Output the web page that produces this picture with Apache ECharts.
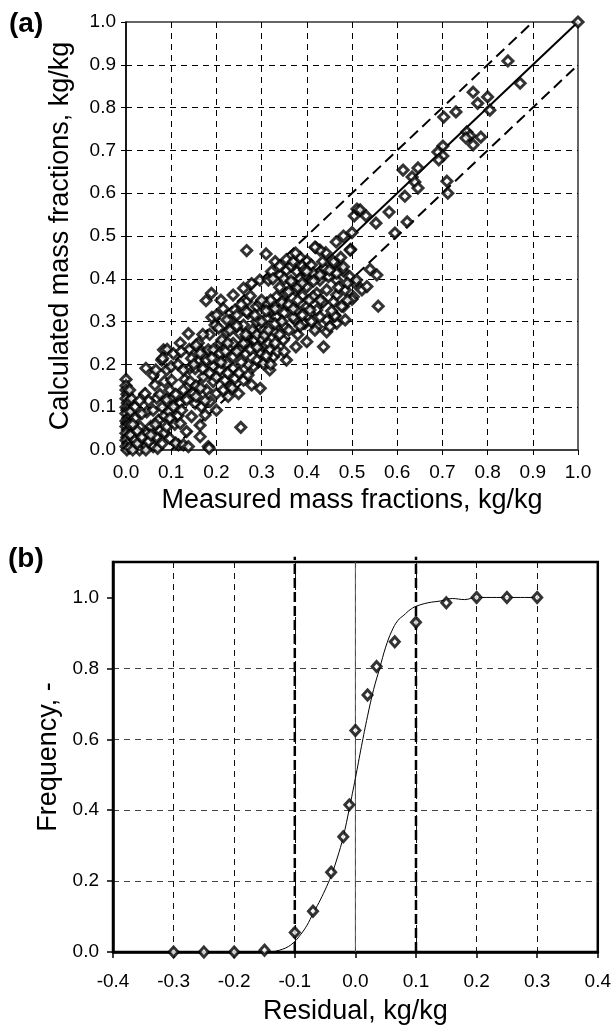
<!DOCTYPE html>
<html>
<head>
<meta charset="utf-8">
<script src="https://cdn.jsdelivr.net/npm/echarts@6/dist/echarts.min.js"></script>
<style>
  html, body { margin: 0; padding: 0; background: #fff; }
  #chart { width: 614px; height: 1026px; }
</style>
</head>
<body>
<div id="chart"></div>
<script>
// (a) measured vs calculated mass fractions [measured, calculated]
var parityPoints = [
  [0.0,0.165],[0.0,0.15],[0.0,0.14],[0.002,0.13],[0.0,0.12],[0.003,0.11],[0.0,0.1],[0.002,0.093],
  [0.0,0.085],[0.004,0.075],[0.0,0.068],[0.002,0.062],[0.0,0.055],[0.003,0.047],[0.0,0.039],[0.002,0.03],
  [0.0,0.023],[0.004,0.016],[0.0,0.008],[0.002,0.0],[0.008,0.005],[0.01,0.035],[0.008,0.06],[0.01,0.09],
  [0.012,0.12],[0.008,0.14],
  [0.02,0.101],[0.02,0.074],[0.031,0.054],[0.02,0.023],[0.042,0.008],[0.046,0.039],[0.046,0.089],[0.042,0.132],
  [0.044,0.191],[0.06,0.175],[0.064,0.152],[0.068,0.121],[0.06,0.093],[0.072,0.07],[0.068,0.031],[0.06,0.008],
  [0.066,0.187],[0.05,0.115],[0.03,0.0],[0.044,0.0],[0.07,0.004],[0.025,0.045],[0.035,0.085],[0.015,0.06],
  [0.055,0.055],[0.05,0.02],[0.03,0.115],[0.08,0.1],[0.075,0.045],[0.085,0.08],[0.08,0.015],
  [0.015,0.0],[0.025,0.015],[0.035,0.03],[0.055,0.035],[0.065,0.06],[0.085,0.04],[0.095,0.09],[0.075,0.13],
  [0.085,0.16],[0.1,0.12],[0.115,0.08],[0.12,0.11],
  [0.083,0.234],[0.079,0.21],[0.09,0.187],[0.101,0.163],[0.097,0.14],[0.09,0.117],[0.105,0.101],[0.097,0.074],
  [0.09,0.054],[0.097,0.027],[0.116,0.012],[0.091,0.235],[0.081,0.214],[0.11,0.016],[0.11,0.13],[0.108,0.06],
  [0.1,0.195],[0.13,0.165],[0.14,0.19],[0.115,0.2],[0.105,0.225],[0.12,0.25],[0.14,0.235],[0.16,0.21],
  [0.127,0.012],[0.138,0.008],[0.182,0.008],[0.184,0.004],[0.138,0.272],[0.122,0.23],[0.145,0.214],[0.153,0.19],
  [0.127,0.187],[0.142,0.16],[0.127,0.14],[0.149,0.132],[0.134,0.117],[0.153,0.109],[0.123,0.093],[0.145,0.078],
  [0.12,0.062],[0.134,0.043],[0.164,0.058],[0.164,0.031],[0.164,0.234],[0.182,0.234],[0.178,0.21],[0.193,0.195],
  [0.171,0.171],[0.193,0.16],[0.178,0.14],[0.2,0.132],[0.186,0.113],[0.167,0.101],[0.2,0.093],[0.175,0.082],
  [0.177,0.349],[0.189,0.366],[0.193,0.234],[0.197,0.292],[0.164,0.226],[0.16,0.25],[0.15,0.2],[0.17,0.19],
  [0.185,0.27],[0.155,0.15],[0.19,0.215],[0.155,0.125],[0.165,0.145],[0.175,0.115],[0.185,0.18],[0.2,0.17],
  [0.17,0.27],[0.155,0.245],[0.19,0.31],
  [0.208,0.249],[0.208,0.226],[0.223,0.202],[0.219,0.163],[0.23,0.148],[0.208,0.187],[0.237,0.191],[0.241,0.167],
  [0.249,0.132],[0.226,0.125],[0.26,0.163],[0.278,0.152],[0.297,0.144],[0.254,0.053],[0.237,0.218],[0.252,0.234],
  [0.267,0.249],[0.282,0.257],[0.223,0.276],[0.23,0.303],[0.241,0.327],[0.2,0.315],[0.27,0.319],[0.26,0.292],
  [0.289,0.3],[0.282,0.272],[0.297,0.234],[0.282,0.195],[0.21,0.35],[0.237,0.362],[0.26,0.378],[0.278,0.389],
  [0.296,0.397],[0.223,0.304],[0.245,0.315],[0.267,0.323],[0.289,0.335],[0.252,0.272],[0.23,0.28],[0.212,0.257],
  [0.237,0.249],[0.26,0.249],[0.285,0.257],[0.296,0.226],[0.267,0.466],[0.267,0.347],[0.27,0.2],[0.25,0.18],
  [0.29,0.21],[0.22,0.23],[0.245,0.29],[0.275,0.36],[0.255,0.34],[0.28,0.28],[0.265,0.225],[0.3,0.26],
  [0.21,0.205],[0.215,0.14],[0.225,0.18],[0.235,0.145],[0.245,0.23],[0.255,0.205],[0.27,0.175],[0.265,0.27],
  [0.275,0.235],[0.285,0.315],[0.29,0.27],[0.215,0.33],[0.205,0.285],[0.225,0.25],[0.29,0.24],
  [0.31,0.458],[0.355,0.445],[0.304,0.28],[0.311,0.307],[0.322,0.327],[0.297,0.343],[0.304,0.202],[0.318,0.187],
  [0.315,0.249],[0.326,0.218],[0.376,0.241],[0.315,0.397],[0.322,0.417],[0.341,0.409],[0.355,0.42],[0.378,0.417],
  [0.396,0.405],[0.311,0.343],[0.333,0.358],[0.355,0.366],[0.374,0.374],[0.333,0.311],[0.307,0.268],[0.329,0.276],
  [0.351,0.288],[0.374,0.304],[0.396,0.296],[0.348,0.257],[0.318,0.234],[0.4,0.335],[0.378,0.327],[0.355,0.339],
  [0.4,0.381],[0.4,0.442],[0.4,0.253],[0.392,0.296],[0.33,0.44],[0.34,0.43],[0.365,0.43],[0.37,0.44],
  [0.385,0.45],[0.39,0.43],[0.35,0.4],[0.37,0.39],[0.39,0.36],[0.36,0.37],[0.34,0.38],[0.38,0.35],
  [0.32,0.35],[0.33,0.33],[0.35,0.32],[0.37,0.31],[0.39,0.315],[0.36,0.28],[0.34,0.27],[0.38,0.27],
  [0.335,0.23],[0.355,0.21],[0.32,0.2],[0.375,0.46],[0.395,0.42],[0.385,0.4],
  [0.3,0.35],[0.3,0.3],[0.31,0.325],[0.315,0.28],[0.325,0.4],[0.33,0.295],[0.345,0.345],[0.345,0.3],
  [0.36,0.34],[0.365,0.395],[0.37,0.33],[0.38,0.38],[0.385,0.29],[0.39,0.39],[0.35,0.23],[0.31,0.22],[0.33,0.25],
  [0.42,0.473],[0.442,0.461],[0.465,0.486],[0.481,0.5],[0.5,0.508],[0.505,0.547],[0.497,0.469],[0.41,0.432],
  [0.44,0.424],[0.462,0.436],[0.48,0.419],[0.495,0.405],[0.507,0.39],[0.466,0.397],[0.448,0.405],[0.429,0.397],
  [0.414,0.413],[0.422,0.366],[0.444,0.374],[0.466,0.362],[0.485,0.374],[0.503,0.358],[0.481,0.335],[0.462,0.315],
  [0.444,0.304],[0.422,0.327],[0.422,0.288],[0.444,0.276],[0.466,0.296],[0.485,0.304],[0.437,0.241],[0.451,0.288],
  [0.462,0.313],[0.477,0.336],[0.5,0.352],[0.522,0.374],[0.533,0.382],[0.51,0.397],[0.54,0.422],[0.555,0.409],
  [0.558,0.336],[0.429,0.467],[0.459,0.44],[0.481,0.428],[0.4,0.417],[0.429,0.409],[0.466,0.413],[0.414,0.358],
  [0.436,0.346],[0.407,0.327],[0.429,0.311],[0.459,0.346],[0.418,0.28],[0.418,0.474],[0.511,0.563],[0.518,0.561],
  [0.531,0.547],[0.496,0.467],[0.405,0.35],[0.41,0.3],[0.415,0.395],[0.43,0.35],[0.435,0.44],[0.45,0.42],
  [0.455,0.325],[0.47,0.38],[0.475,0.45],[0.49,0.39],[0.49,0.35],
  [0.553,0.53],[0.582,0.556],[0.595,0.507],[0.622,0.533],[0.617,0.593],[0.613,0.654],[0.646,0.659],[0.633,0.638],
  [0.639,0.626],[0.646,0.612],[0.71,0.628],[0.712,0.6],[0.701,0.71],[0.69,0.696],[0.701,0.687],[0.692,0.678],
  [0.703,0.778],[0.73,0.79],[0.754,0.743],[0.761,0.734],[0.768,0.713],[0.785,0.731],[0.752,0.729],[0.768,0.836],
  [0.8,0.825],[0.778,0.81],[0.805,0.794],[0.845,0.909],[0.872,0.857],[1.0,1.0]
];
// (a) reference lines: y = x and +-0.1 band
var diagLine = [[0, 0], [1, 1]];
var bandUpper = [[0, 0.1], [0.9, 1]];
var bandLower = [[0.1, 0], [1, 0.9]];

// (b) cumulative residual frequency
var residualX = [-0.3, -0.25, -0.2, -0.15, -0.1, -0.07, -0.04, -0.02, -0.01, 0.0, 0.02, 0.035, 0.065, 0.1, 0.15, 0.2, 0.25, 0.3];
var frequencyY = [0, 0, 0, 0.005, 0.055, 0.115, 0.225, 0.325, 0.415, 0.625, 0.725, 0.805, 0.875, 0.93, 0.985, 1, 1, 1];
// fitted curve
var curveX = [-0.3, -0.14, -0.13, -0.12, -0.11, -0.1, -0.09, -0.08, -0.07, -0.06, -0.05, -0.04, -0.03, -0.02, -0.01, 0, 0.01, 0.02, 0.03, 0.04, 0.05, 0.06, 0.07, 0.08, 0.09, 0.1, 0.12, 0.14, 0.16, 0.18, 0.2, 0.3];
var curveY = [0, 0, 0.003, 0.008, 0.016, 0.03, 0.05, 0.075, 0.108, 0.14, 0.175, 0.215, 0.265, 0.325, 0.405, 0.49, 0.58, 0.665, 0.74, 0.8, 0.86, 0.905, 0.935, 0.95, 0.965, 0.975, 0.985, 0.99, 0.997, 0.994, 1, 1];
var limitX = [-0.1, 0.1];
var limitTop = 1.115;
var zeroLine = [[0, 0], [0, 1.1]];
var yTicksB = [0, 0.2, 0.4, 0.6, 0.8, 1.0];

var font = 'Liberation Sans, Arial, sans-serif';
var fmt1 = function (v) { return (Math.abs(v) < 1e-9 ? 0 : v).toFixed(1); };

function zip(xs, ys) {
  var out = [];
  for (var i = 0; i < xs.length; i++) out.push([xs[i], ys[i]]);
  return out;
}

var chart = echarts.init(document.getElementById('chart'), null, { renderer: 'canvas' });

var diamond = {
  type: 'scatter',
  symbol: 'diamond',
  itemStyle: { color: '#fff', borderColor: '#000', borderWidth: 3 },
  z: 10,
  silent: true
};

var option = {
  animation: false,
  backgroundColor: '#fff',
  graphic: [
    { type: 'text', left: 9, top: 10, style: { text: '(a)', font: 'bold 28px ' + font, fill: '#000' } },
    { type: 'text', left: 8, top: 545, style: { text: '(b)', font: 'bold 28px ' + font, fill: '#000' } }
  ],
  grid: [
    { left: 126, top: 22, width: 452, height: 428, show: true, borderColor: '#333', borderWidth: 1.5 },
    { left: 113, top: 562, width: 485, height: 391, show: true, borderColor: '#000', borderWidth: 2.5 }
  ],
  xAxis: [{
    gridIndex: 0,
    type: 'value',
    min: 0,
    max: 1,
    interval: 0.1,
    name: 'Measured mass fractions, kg/kg',
    nameLocation: 'middle',
    nameGap: 37,
    nameTextStyle: { fontSize: 27, color: '#000', fontFamily: font },
    axisLine: { onZero: false, lineStyle: { color: '#333', width: 1.5 } },
    axisTick: { show: true, length: 5, lineStyle: { color: '#000', width: 1 } },
    axisLabel: { margin: 13, fontSize: 19, color: '#000', fontFamily: font, formatter: fmt1 },
    splitLine: { show: true, showMinLine: false, showMaxLine: false, lineStyle: { type: [6, 5], color: '#000', width: 1 } }
  }, {
    gridIndex: 1,
    type: 'value',
    min: -0.4,
    max: 0.4,
    interval: 0.1,
    name: 'Residual, kg/kg',
    nameLocation: 'middle',
    nameGap: 46,
    nameTextStyle: { fontSize: 27, color: '#000', fontFamily: font },
    axisLine: { onZero: false, lineStyle: { color: '#000', width: 2.5 } },
    axisTick: { show: true, length: 6, lineStyle: { color: '#000', width: 1.5 } },
    axisLabel: { margin: 20, fontSize: 19, color: '#000', fontFamily: font, formatter: fmt1 },
    splitLine: { show: true, showMinLine: false, showMaxLine: false, lineStyle: { type: [6, 5], color: '#111', width: 1 } }
  }],
  yAxis: [{
    gridIndex: 0,
    type: 'value',
    min: 0,
    max: 1,
    interval: 0.1,
    name: 'Calculated mass fractions, kg/kg',
    nameLocation: 'middle',
    nameGap: 52,
    nameTextStyle: { fontSize: 27, color: '#000', fontFamily: font },
    axisLine: { onZero: false, lineStyle: { color: '#000', width: 1.5 } },
    axisTick: { show: true, length: 5, lineStyle: { color: '#000', width: 1 } },
    axisLabel: { margin: 10, fontSize: 19, color: '#000', fontFamily: font, formatter: fmt1 },
    splitLine: { show: true, showMinLine: false, showMaxLine: false, lineStyle: { type: [6, 5], color: '#000', width: 1 } }
  }, {
    gridIndex: 1,
    type: 'value',
    min: 0,
    max: 1.1,
    interval: 0.2,
    name: 'Frequency, -',
    nameLocation: 'middle',
    nameGap: 46,
    nameTextStyle: { fontSize: 27, color: '#000', fontFamily: font },
    axisLine: { onZero: false, lineStyle: { color: '#000', width: 2.5 } },
    axisTick: { show: true, length: 6, customValues: yTicksB, lineStyle: { color: '#000', width: 1.5 } },
    axisLabel: { margin: 14, fontSize: 19, color: '#000', fontFamily: font, formatter: fmt1, customValues: yTicksB },
    splitLine: { show: true, showMinLine: false, showMaxLine: false, lineStyle: { type: [6, 5], color: '#444', width: 1 } }
  }],
  series: [
    // (a) reference lines
    {
      type: 'line', xAxisIndex: 0, yAxisIndex: 0, data: diagLine, symbol: 'none', silent: true, z: 5,
      lineStyle: { color: '#000', width: 2 }
    },
    {
      type: 'line', xAxisIndex: 0, yAxisIndex: 0, data: bandUpper, symbol: 'none', silent: true, z: 5,
      lineStyle: { color: '#000', width: 2, type: [11, 6] }
    },
    {
      type: 'line', xAxisIndex: 0, yAxisIndex: 0, data: bandLower, symbol: 'none', silent: true, z: 5,
      lineStyle: { color: '#000', width: 2, type: [11, 6] }
    },
    Object.assign({}, diamond, { xAxisIndex: 0, yAxisIndex: 0, symbolSize: 10, data: parityPoints }),

    // (b) zero line and +-0.1 limits
    {
      type: 'line', xAxisIndex: 1, yAxisIndex: 1, data: zeroLine, symbol: 'none', silent: true, z: 4,
      lineStyle: { color: '#555', width: 1 }
    },
    {
      type: 'line', xAxisIndex: 1, yAxisIndex: 1, data: [[limitX[0], 0], [limitX[0], limitTop]], symbol: 'none',
      silent: true, clip: false, z: 4, lineStyle: { color: '#000', width: 2.5, type: [10, 4] }
    },
    {
      type: 'line', xAxisIndex: 1, yAxisIndex: 1, data: [[limitX[1], 0], [limitX[1], limitTop]], symbol: 'none',
      silent: true, clip: false, z: 4, lineStyle: { color: '#000', width: 2.5, type: [10, 4] }
    },
    {
      type: 'line', xAxisIndex: 1, yAxisIndex: 1, data: zip(curveX, curveY), symbol: 'none', smooth: 0.4,
      silent: true, z: 6, lineStyle: { color: '#000', width: 1 }
    },
    Object.assign({}, diamond, { xAxisIndex: 1, yAxisIndex: 1, symbolSize: [9, 10], data: zip(residualX, frequencyY) })
  ]
};

chart.setOption(option);
</script>
</body>
</html>
